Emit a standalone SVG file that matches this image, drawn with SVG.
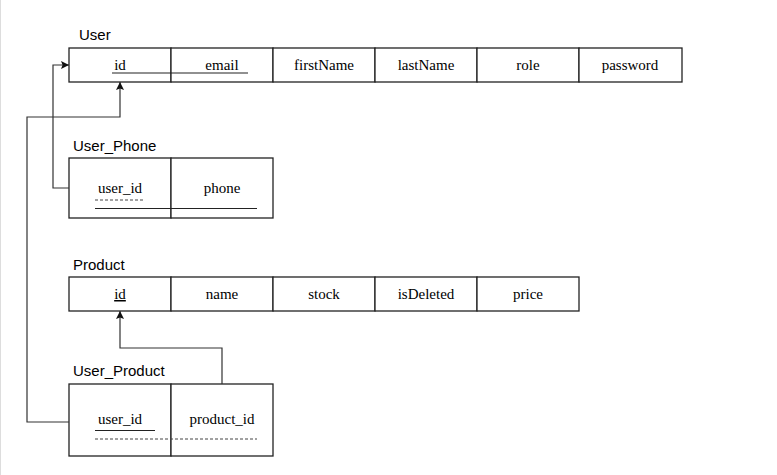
<svg xmlns="http://www.w3.org/2000/svg" width="777" height="475" viewBox="0 0 777 475">
<style>
.cell{fill:#fff;stroke:#222;stroke-width:1.3}
.t{font-family:"Liberation Serif",serif;font-size:15px;fill:#000;text-anchor:middle}
.title{font-family:"Liberation Sans",Arial,sans-serif;font-size:15px;fill:#000}
.ul{stroke:#222;stroke-width:1.2;fill:none}
.dash{stroke:#444;stroke-width:1;stroke-dasharray:3,2;fill:none}
.conn{stroke:#333;stroke-width:1.2;fill:none}
</style>
<defs>
<marker id="arr" viewBox="0 0 10 10" refX="10" refY="5" markerWidth="8" markerHeight="8" orient="auto" markerUnits="userSpaceOnUse">
<path d="M0,0 L10,5 L0,10 L2,5 z" fill="#111"/>
</marker>
</defs>
<rect x="0" y="0" width="777" height="475" fill="#fff"/>
<line x1="0.5" y1="0" x2="0.5" y2="475" stroke="#ddd" stroke-width="1"/>

<g id="User">
<text class="title" x="79" y="40">User</text>
<rect class="cell" x="69" y="48" width="102" height="34"/>
<rect class="cell" x="171" y="48" width="102" height="34"/>
<rect class="cell" x="273" y="48" width="102" height="34"/>
<rect class="cell" x="375" y="48" width="102" height="34"/>
<rect class="cell" x="477" y="48" width="102" height="34"/>
<rect class="cell" x="579" y="48" width="103" height="34"/>
<text class="t" x="120" y="70">id</text>
<text class="t" x="222" y="70">email</text>
<text class="t" x="324" y="70">firstName</text>
<text class="t" x="426" y="70">lastName</text>
<text class="t" x="528" y="70">role</text>
<text class="t" x="630" y="70">password</text>
<line class="ul" x1="112" y1="73" x2="248" y2="73"/>
</g>

<g id="User_Phone">
<text class="title" x="73" y="151">User_Phone</text>
<rect class="cell" x="69" y="158" width="102" height="60"/>
<rect class="cell" x="171" y="158" width="102" height="60"/>
<text class="t" x="120" y="193">user_id</text>
<text class="t" x="222" y="193">phone</text>
<line class="dash" x1="95" y1="200" x2="144" y2="200"/>
<line class="ul" x1="95" y1="208.5" x2="257" y2="208.5"/>
</g>

<g id="Product">
<text class="title" x="73" y="270">Product</text>
<rect class="cell" x="69" y="277" width="102" height="34"/>
<rect class="cell" x="171" y="277" width="102" height="34"/>
<rect class="cell" x="273" y="277" width="102" height="34"/>
<rect class="cell" x="375" y="277" width="102" height="34"/>
<rect class="cell" x="477" y="277" width="102" height="34"/>
<text class="t" x="120" y="299" text-decoration="underline">id</text>
<text class="t" x="222" y="299">name</text>
<text class="t" x="324" y="299">stock</text>
<text class="t" x="426" y="299">isDeleted</text>
<text class="t" x="528" y="299">price</text>
</g>

<g id="User_Product">
<text class="title" x="73" y="376">User_Product</text>
<rect class="cell" x="69" y="384" width="102" height="72"/>
<rect class="cell" x="171" y="384" width="102" height="72"/>
<text class="t" x="120" y="424">user_id</text>
<text class="t" x="222" y="424">product_id</text>
<line class="ul" x1="95" y1="430.5" x2="155" y2="430.5"/>
<line class="dash" x1="95" y1="439" x2="257" y2="439"/>
</g>

<g id="connectors">
<polyline class="conn" points="69,188 53,188 53,65 69,65" marker-end="url(#arr)"/>
<polyline class="conn" points="69,422 27,422 27,117 120,117 120,82" marker-end="url(#arr)"/>
<polyline class="conn" points="222,384 222,348 120,348 120,311" marker-end="url(#arr)"/>
</g>
</svg>
